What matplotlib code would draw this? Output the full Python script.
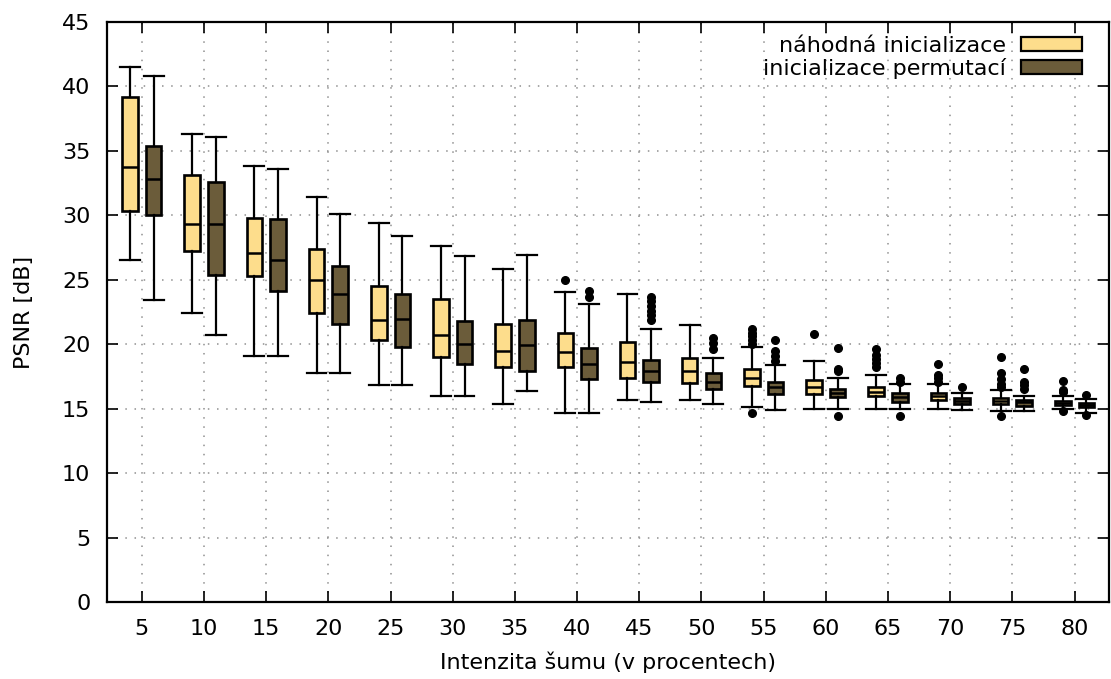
import matplotlib
matplotlib.use("Agg")
import matplotlib.pyplot as plt
import matplotlib.patches as mpatches

# noise levels (x tick labels)
noise = [5, 10, 15, 20, 25, 30, 35, 40, 45, 50, 55, 60, 65, 70, 75, 80]

# random initialisation: whislo, q1, med, q3, whishi
rand_lo = [26.5, 22.4, 19.1, 17.8, 16.8, 16.0, 15.35, 14.7, 15.7, 15.7, 15.15, 15.0, 15.0, 15.0, 14.85, 15.0]
rand_q1 = [30.35, 27.2, 25.3, 22.4, 20.3, 19.0, 18.25, 18.25, 17.35, 17.0, 16.75, 16.1, 15.95, 15.7, 15.4, 15.3]
rand_med = [33.75, 29.35, 27.1, 25.0, 21.9, 20.7, 19.5, 19.4, 18.6, 17.9, 17.35, 16.65, 16.3, 16.0, 15.6, 15.45]
rand_q3 = [39.2, 33.1, 29.8, 27.4, 24.5, 23.5, 21.6, 20.9, 20.15, 18.9, 18.05, 17.2, 16.7, 16.25, 15.85, 15.6]
rand_hi = [41.5, 36.3, 33.8, 31.4, 29.4, 27.65, 25.8, 24.05, 23.9, 21.5, 19.8, 18.7, 17.65, 16.95, 16.45, 15.95]
rand_fl = [[], [], [], [], [], [], [], [25.0], [], [],
           [21.15, 20.9, 20.6, 20.3, 20.05, 14.65],
           [20.8],
           [19.6, 19.2, 18.85, 18.55, 18.25],
           [18.45, 17.65, 17.35, 17.1],
           [19.0, 17.75, 17.3, 16.95, 16.7, 14.45],
           [17.15, 16.45, 16.3, 14.8]]

# permutation initialisation
perm_lo = [23.4, 20.7, 19.1, 17.8, 16.8, 16.0, 16.35, 14.7, 15.55, 15.35, 14.9, 15.0, 14.95, 14.9, 14.85, 14.7]
perm_q1 = [30.05, 25.35, 24.15, 21.55, 19.8, 18.45, 17.9, 17.3, 17.05, 16.5, 16.15, 15.9, 15.55, 15.35, 15.2, 15.1]
perm_med = [32.8, 29.3, 26.5, 23.9, 21.96, 20.05, 19.95, 18.45, 17.95, 17.05, 16.65, 16.2, 15.9, 15.6, 15.5, 15.25]
perm_q3 = [35.4, 32.6, 29.7, 26.1, 23.9, 21.8, 21.85, 19.7, 18.8, 17.75, 17.1, 16.55, 16.2, 15.85, 15.7, 15.45]
perm_hi = [40.8, 36.1, 33.6, 30.1, 28.4, 26.85, 26.9, 23.1, 21.2, 18.95, 18.35, 17.35, 16.9, 16.25, 16.0, 15.75]
perm_fl = [[], [], [], [], [], [], [], [24.15, 23.7],
           [23.7, 23.35, 23.0, 22.6, 22.25, 21.85],
           [20.45, 20.1, 19.6],
           [20.3, 19.45, 19.1, 18.7],
           [19.7, 18.1, 17.9, 14.45],
           [17.4, 17.1, 14.45],
           [16.65],
           [18.1, 17.1, 16.85, 16.5],
           [16.05, 14.5]]

light = "#fddd8c"
dark = "#6b5c3a"
FS = 16


def make_stats(lo, q1, med, q3, hi, fl):
    return [dict(whislo=a, q1=b, med=c, q3=d, whishi=e, fliers=f)
            for a, b, c, d, e, f in zip(lo, q1, med, q3, hi, fl)]


fig, ax = plt.subplots(figsize=(11.11, 6.79), dpi=100)
fig.subplots_adjust(left=0.0963, right=0.998, top=0.9676, bottom=0.1134)

pos = list(range(1, len(noise) + 1))
off = 0.19
for stats, color, shift in [
    (make_stats(rand_lo, rand_q1, rand_med, rand_q3, rand_hi, rand_fl), light, -off),
    (make_stats(perm_lo, perm_q1, perm_med, perm_q3, perm_hi, perm_fl), dark, off),
]:
    ax.bxp(stats, positions=[p + shift for p in pos], widths=0.25,
           capwidths=0.32, patch_artist=True, manage_ticks=False,
           boxprops=dict(facecolor=color, edgecolor="black", linewidth=1.9),
           medianprops=dict(color="black", linewidth=1.8),
           whiskerprops=dict(color="black", linewidth=1.6),
           capprops=dict(color="black", linewidth=1.6),
           flierprops=dict(marker="o", markerfacecolor="black",
                           markeredgecolor="black", markersize=5.5))

ax.set_xlim(0.44, 16.55)
ax.set_ylim(0, 45)
ax.set_xticks(pos)
ax.set_xticklabels([str(n) for n in noise])
ax.set_yticks(range(0, 46, 5))
ax.tick_params(direction="in", length=8, width=1.2, top=True, right=True,
               labelsize=FS, pad=12)
ax.tick_params(axis="x", pad=12)
for s in ax.spines.values():
    s.set_linewidth(1.6)
ax.grid(True, color="#909090", linestyle=(0, (1, 5)), linewidth=1.1)
ax.set_axisbelow(True)

ax.set_xlabel("Intenzita šumu (v procentech)", fontsize=FS, labelpad=9)
ax.set_ylabel("PSNR [dB]", fontsize=FS, labelpad=20)

handles = [
    mpatches.Patch(facecolor=light, edgecolor="black", linewidth=1.6, label="náhodná inicializace"),
    mpatches.Patch(facecolor=dark, edgecolor="black", linewidth=1.6, label="inicializace permutací"),
]
ax.legend(handles=handles, loc="upper right", bbox_to_anchor=(0.982, 0.992),
          frameon=False, markerfirst=False, fontsize=FS, handlelength=2.75,
          handleheight=0.6, labelspacing=0.1, borderaxespad=0,
          handletextpad=0.68)

fig.savefig("out.png", dpi=100)
